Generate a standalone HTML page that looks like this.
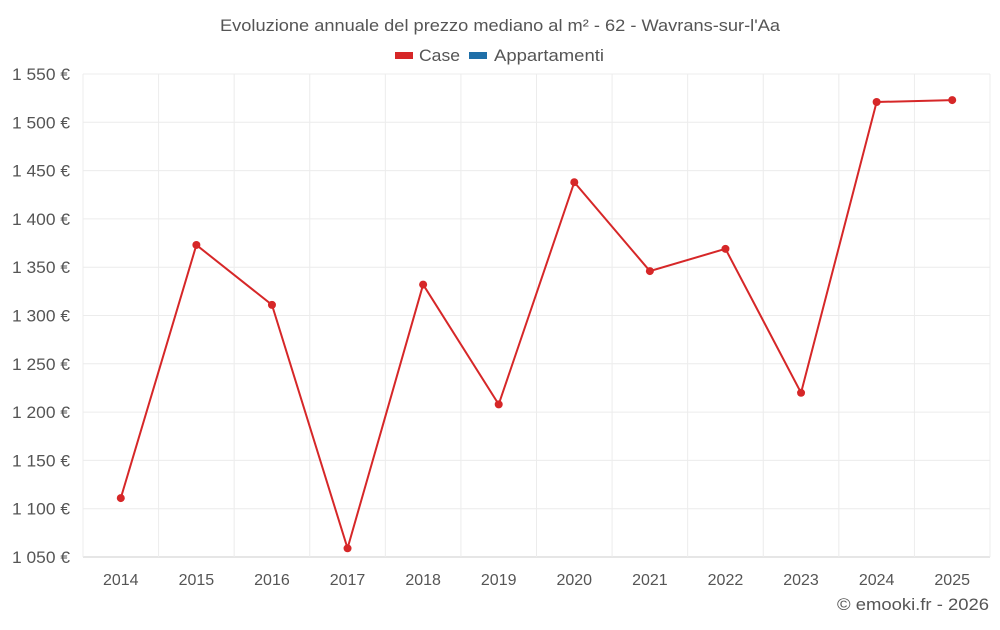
<!DOCTYPE html>
<html><head><meta charset="utf-8"><style>
body{margin:0;background:#fff;font-family:"Liberation Sans",Roboto,sans-serif;}
svg text{font-family:"Liberation Sans",sans-serif;}
</style></head><body>
<svg id="chart" width="1000" height="625" xmlns="http://www.w3.org/2000/svg">
<text x="220" y="31" textLength="560" lengthAdjust="spacingAndGlyphs" font-size="17" fill="#555">Evoluzione annuale del prezzo mediano al m² - 62 - Wavrans-sur-l'Aa</text>
<g><rect x="395" y="52" width="18" height="7" fill="#d62728"/><text x="419" y="61" textLength="41" lengthAdjust="spacingAndGlyphs" font-size="17" fill="#555">Case</text></g>
<g><rect x="469" y="52" width="18" height="7" fill="#1f6fa8"/><text x="494" y="61" textLength="110" lengthAdjust="spacingAndGlyphs" font-size="17" fill="#555">Appartamenti</text></g>
<g id="grid"></g><g id="axes"></g><g id="series"></g>
<text x="837" y="610" textLength="152" lengthAdjust="spacingAndGlyphs" font-size="17" fill="#555">© emooki.fr - 2026</text>
</svg>
<script>
const years=[2014,2015,2016,2017,2018,2019,2020,2021,2022,2023,2024,2025];
const caseValues=[1111,1373,1311,1059,1332,1208,1438,1346,1369,1220,1521,1523];
const yTicks=[1050,1100,1150,1200,1250,1300,1350,1400,1450,1500,1550];
const L=83,R=990,T=74,B=557,yMin=1050,yMax=1550;
const NS="http://www.w3.org/2000/svg";
const band=(R-L)/years.length;
const x=i=>L+band*(i+0.5);
const y=v=>B-(v-yMin)/(yMax-yMin)*(B-T);
function mk(tag,attrs,parent){const e=document.createElementNS(NS,tag);for(const k in attrs)e.setAttribute(k,attrs[k]);parent.appendChild(e);return e;}
const grid=document.getElementById('grid'),axes=document.getElementById('axes'),series=document.getElementById('series');
yTicks.forEach(t=>{
 const l=mk('line',{x1:L,x2:R,y1:y(t),y2:y(t),stroke:t===yMin?'#ccc':'#ececec'},grid);
 
 
 const tx=mk('text',{x:12,y:y(t)+6,textLength:58,lengthAdjust:'spacingAndGlyphs','font-size':17,fill:'#555'},axes);
 tx.textContent=t.toString().replace(/(\d)(\d{3})$/,'$1 $2')+' €';
 
 
});
for(let i=0;i<=years.length;i++){
 const l=mk('line',{x1:L+band*i,x2:L+band*i,y1:T,y2:B,stroke:'#ececec'},grid);
 
 
}
years.forEach((yr,i)=>{
 const tx=mk('text',{x:x(i),y:585,'text-anchor':'middle','font-size':16,fill:'#555'},axes);
 tx.textContent=yr;
 
 
});
const p=mk('polyline',{points:caseValues.map((v,i)=>x(i)+','+y(v)).join(' '),fill:'none',stroke:'#d62728','stroke-width':2},series);


caseValues.forEach((v,i)=>{
 const c=mk('circle',{cx:x(i),cy:y(v),r:4,fill:'#d62728'},series);
 
 
});
</script>
</body></html>
